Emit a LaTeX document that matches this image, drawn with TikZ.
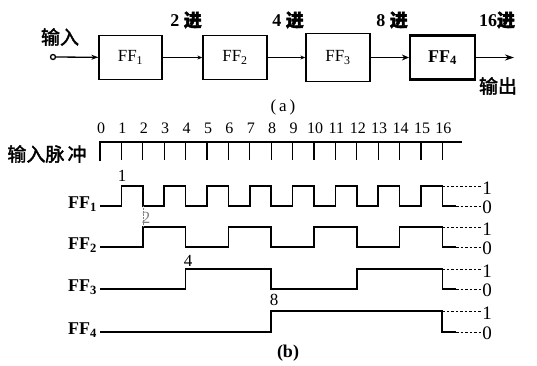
\documentclass[tikz,border=0pt]{standalone}
\usepackage{fontspec}
\setmainfont{Liberation Serif}
\newfontfamily\cjk{Noto Sans CJK SC}[FakeBold=2]
\usetikzlibrary{arrows.meta}
\begin{document}
\begin{tikzpicture}[x=1pt,y=-1pt,
  ffbox/.style={draw, line width=1.3pt, minimum width=63pt, minimum height=44pt, inner sep=0pt, font=\fontsize{17}{17}\selectfont},
  cjklab/.style={inner sep=0pt, font=\cjk\fontsize{19}{19}\selectfont},
  jinlab/.style={inner sep=0pt, font=\bfseries\fontsize{18}{18}\selectfont},
  wave/.style={line width=1.6pt},
  ext/.style={line width=1pt, dash pattern=on 2.5pt off 2pt},
  lvl/.style={inner sep=0pt, font=\fontsize{19}{19}\selectfont},
  fflab/.style={inner sep=0pt, anchor=east, font=\bfseries\fontsize{18}{18}\selectfont},
  numlab/.style={inner sep=0pt, font=\fontsize{17}{17}\selectfont},
  ticknum/.style={inner sep=0pt, font=\fontsize{16}{16}\selectfont},
  captext/.style={inner sep=0pt, font=\fontsize{17}{17}\selectfont}]
\useasboundingbox (0,0) rectangle (537,365);

% ---------- (a) ----------
\node[ffbox] (ff1) at (130.5,57.5) {FF\textsubscript{1}};
\node[ffbox, minimum width=64pt] (ff2) at (235,57.5) {FF\textsubscript{2}};
\node[ffbox, minimum width=64pt, minimum height=48pt] (ff3) at (338,57.5) {FF\textsubscript{3}};
\node[ffbox, line width=2.2pt, minimum width=65pt, font=\bfseries\fontsize{18}{18}\selectfont] (ff4) at (442.5,57.5) {FF\textsubscript{4}};
\node[circle, draw, fill=white, line width=1.3pt, minimum size=5pt, inner sep=0pt] (in) at (53,57) {};
\coordinate (out) at (514,57.5);

\draw[line width=1.3pt, -{Stealth[length=7pt,width=5pt]}] (in) -- (ff1);
\draw[line width=0.8pt, -{Stealth[open,length=5pt,width=4pt]}] (ff1) -- (ff2);
\draw[line width=0.8pt, -{Stealth[open,length=5pt,width=4pt]}] (ff2) -- (ff3);
\draw[line width=1.6pt, -{Stealth[length=7pt,width=6pt]}] (ff3) -- (ff4);
\draw[line width=1.8pt, -{Stealth[length=9pt,width=6pt]}] (ff4) -- (out);

\node[cjklab] (lin) at (60,37) {输入};
\node[cjklab] (lout) at (498,86) {输出};
\node[jinlab] (j2) at (186,20) {2 {\cjk\fontsize{18}{18}\selectfont 进}};
\node[jinlab] (j4) at (288,20) {4 {\cjk\fontsize{18}{18}\selectfont 进}};
\node[jinlab] (j8) at (392,20) {8 {\cjk\fontsize{18}{18}\selectfont 进}};
\node[jinlab] (j16) at (497,20) {16{\cjk\fontsize{18}{18}\selectfont 进}};
\node[captext] (capa) at (283,107) {(\,a\,)};

% ---------- (b) ----------
\node[cjklab] (lpulse) at (47,154) {输入脉\,冲};
\draw[line width=1.8pt] (100,161) -- (100,142) -- (462,142);
\foreach \k in {1,...,16} {
  \draw[line width=1.2pt] ({100+21.4*\k},142) -- ({100+21.4*\k},160);
}
\foreach \k in {0,...,16} {
  \node[ticknum] (n\k) at ({101+21.4*\k},128) {\k};
}

% FF1
\draw[wave] (100,206) foreach \k in {1,...,16} { -| ({100+21.4*\k},{iseven(\k) ? 206 : 186}) } -- (456,206);
% FF2
\draw[wave] (100,247) -| (142.8,227) -| (185.6,247) -| (228.4,227) -| (271.2,247) -| (314,227) -| (356.8,247) -| (399.6,227) -| (442.4,247) -- (456,247);
% FF3
\draw[wave] (100,289) -| (185.6,269) -| (271.2,289) -| (356.8,269) -| (442.4,289) -- (456,289);
% FF4
\draw[line width=2pt] (100,332) -| (271.2,311) -| (442.4,332) -- (456,332);

\draw[line width=0.5pt, densely dotted, gray] (142.8,206) -- (142.8,227);

% level extensions and labels
\foreach \h/\l [count=\i] in {186/206, 227/247, 269/289, 311/332} {
  \draw[ext] (442.4,\h) -- (481,\h);
  \draw[ext] (456,\l) -- (481,\l);
  \node[lvl] (one\i) at (487,{\h+2}) {1};
  \node[lvl] (zero\i) at (487,{\l+1}) {0};
}

\node[fflab] (lf1) at (97,204) {FF\textsubscript{1}};
\node[fflab] (lf2) at (97,245) {FF\textsubscript{2}};
\node[fflab] (lf3) at (97,287) {FF\textsubscript{3}};
\node[fflab] (lf4) at (97,330) {FF\textsubscript{4}};

\node[numlab] (p1) at (122,176) {1};
\node[numlab, text=gray] (p2) at (146,218) {2};
\node[numlab] (p4) at (188,261) {4};
\node[numlab] (p8) at (274,300) {8};

\node[captext, font=\bfseries\fontsize{18}{18}\selectfont] (capb) at (288,353) {(b)};
\end{tikzpicture}
\end{document}
